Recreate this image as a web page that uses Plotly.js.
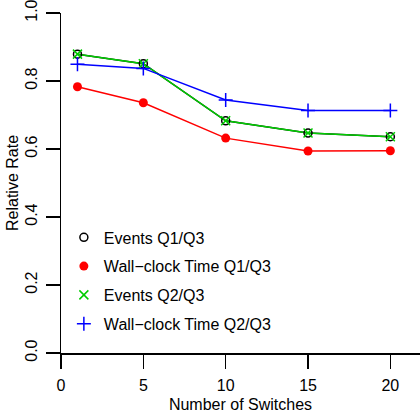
<!DOCTYPE html>
<html>
<head>
<meta charset="utf-8">
<script src="https://cdn.plot.ly/plotly-3.0.1.min.js"></script>
<style>html,body{margin:0;padding:0;background:#fff;}#chart{width:420px;height:417px;}</style>
</head>
<body>
<div id="chart"></div>
<script>
var switches = [1, 5, 10, 15, 20];
var eventsQ1Q3 = [0.879, 0.851, 0.683, 0.647, 0.636];
var wallQ1Q3 = [0.783, 0.736, 0.632, 0.594, 0.595];
var eventsQ2Q3 = [0.879, 0.851, 0.683, 0.647, 0.636];
var wallQ2Q3 = [0.849, 0.837, 0.744, 0.713, 0.713];
var xTicks = [0, 5, 10, 15, 20];
var yTicks = [0, 0.2, 0.4, 0.6, 0.8, 1.0];

var FONT = "Liberation Sans, Arial, Helvetica, sans-serif";
var FS = 16;
var RED = "#FF0000", GREEN = "#00CD00", BLUE = "#0000FF", BLACK = "#000000";

function lineTrace(y, color) {
  return {x: switches, y: y, mode: "lines", line: {color: color, width: 1.5},
          showlegend: false, hoverinfo: "skip"};
}
function markTrace(y, name, marker, grp) {
  return {x: switches, y: y, mode: "markers", name: name, marker: marker,
          legendgroup: grp, showlegend: true};
}

var data = [
  lineTrace(eventsQ1Q3, BLACK),
  lineTrace(wallQ1Q3, RED),
  lineTrace(eventsQ2Q3, GREEN),
  lineTrace(wallQ2Q3, BLUE),
  markTrace(eventsQ1Q3, "Events Q1/Q3", {symbol: "circle-open", size: 8, color: BLACK, line: {width: 1.5, color: BLACK}}, "a"),
  markTrace(wallQ1Q3, "Wall\u2212clock Time Q1/Q3", {symbol: "circle", size: 9, color: RED}, "b"),
  markTrace(eventsQ2Q3, "Events Q2/Q3", {symbol: "x-thin-open", size: 9, color: GREEN, line: {width: 1.5, color: GREEN}}, "c"),
  markTrace(wallQ2Q3, "Wall\u2212clock Time Q2/Q3", {symbol: "cross-thin-open", size: 10, color: BLUE, line: {width: 1.5, color: BLUE}}, "d")
];

var layout = {
  width: 420, height: 417,
  margin: {l: 61, r: 0, t: 13, b: 64, pad: 0},
  paper_bgcolor: "#fff", plot_bgcolor: "#fff",
  font: {family: FONT, size: FS, color: "#000"},
  showlegend: true,
  legend: {x: 0.008, y: 0.39, xanchor: "left", yanchor: "top", bgcolor: "rgba(0,0,0,0)",
           tracegroupgap: 5, traceorder: "grouped", font: {family: FONT, size: FS}},
  xaxis: {range: [0, 21.8], tickvals: xTicks, ticktext: xTicks.map(String), ticks: "outside", ticklen: 14,
          tickwidth: 1.5, tickcolor: "#000", showline: true, linecolor: "#000", linewidth: 1.5,
          showgrid: false, zeroline: false, ticklabelstandoff: 3, ticklabeloverflow: "allow",
          title: {text: "Number of Switches", font: {family: FONT, size: FS}, standoff: 6}},
  yaxis: {range: [0, 1], tickvals: yTicks, ticktext: yTicks.map(function(v){return v.toFixed(1);}),
          ticks: "outside", ticklen: 14, tickwidth: 1.5, tickcolor: "#000", tickangle: -90,
          showline: true, linecolor: "#000", linewidth: 1.5, showgrid: false, zeroline: false,
          ticklabelstandoff: 2, ticklabeloverflow: "allow",
          title: {text: "Relative Rate", font: {family: FONT, size: FS}, standoff: 0}}
};

Plotly.newPlot("chart", data, layout, {displayModeBar: false, staticPlot: true});
</script>
</body>
</html>
